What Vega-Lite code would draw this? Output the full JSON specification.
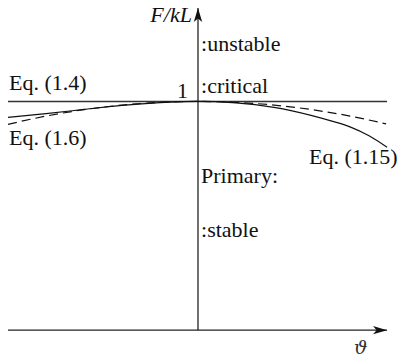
{
  "$schema": "https://vega.github.io/schema/vega-lite/v6.json",
  "width": 401,
  "height": 358,
  "autosize": {"type": "fit", "contains": "padding"},
  "padding": 0,
  "config": {"view": {"stroke": null}, "font": "Liberation Serif"},
  "datasets": {
    "curves": [
      {"curve": "Eq. (1.4)", "theta": -1.0, "F": 1.0},
      {"curve": "Eq. (1.4)", "theta": 0.995, "F": 1.0},
      {"curve": "Eq. (1.15)", "theta": -1.0, "F": 0.93},
      {"curve": "Eq. (1.15)", "theta": -0.8, "F": 0.947},
      {"curve": "Eq. (1.15)", "theta": -0.6, "F": 0.965},
      {"curve": "Eq. (1.15)", "theta": -0.4, "F": 0.983},
      {"curve": "Eq. (1.15)", "theta": -0.2, "F": 0.995},
      {"curve": "Eq. (1.15)", "theta": 0.0, "F": 1.0},
      {"curve": "Eq. (1.15)", "theta": 0.2, "F": 0.994},
      {"curve": "Eq. (1.15)", "theta": 0.4, "F": 0.974},
      {"curve": "Eq. (1.15)", "theta": 0.6, "F": 0.938},
      {"curve": "Eq. (1.15)", "theta": 0.7, "F": 0.915},
      {"curve": "Eq. (1.15)", "theta": 0.8, "F": 0.889},
      {"curve": "Eq. (1.15)", "theta": 0.9, "F": 0.85},
      {"curve": "Eq. (1.15)", "theta": 0.995, "F": 0.8},
      {"curve": "Eq. (1.6)", "theta": -1.0, "F": 0.9},
      {"curve": "Eq. (1.6)", "theta": -0.8, "F": 0.936},
      {"curve": "Eq. (1.6)", "theta": -0.6, "F": 0.964},
      {"curve": "Eq. (1.6)", "theta": -0.4, "F": 0.984},
      {"curve": "Eq. (1.6)", "theta": -0.2, "F": 0.996},
      {"curve": "Eq. (1.6)", "theta": 0.0, "F": 1.0},
      {"curve": "Eq. (1.6)", "theta": 0.2, "F": 0.996},
      {"curve": "Eq. (1.6)", "theta": 0.4, "F": 0.984},
      {"curve": "Eq. (1.6)", "theta": 0.6, "F": 0.964},
      {"curve": "Eq. (1.6)", "theta": 0.8, "F": 0.936},
      {"curve": "Eq. (1.6)", "theta": 0.99, "F": 0.902}
    ],
    "axes": [
      {"axis": "theta", "theta": -1.0, "F": 0.0},
      {"axis": "theta", "theta": 0.995, "F": 0.0},
      {"axis": "F", "theta": 0.0, "F": 0.0},
      {"axis": "F", "theta": 0.0, "F": 1.409}
    ],
    "labels": [
      {"label": "Eq. (1.4)", "kind": "left", "theta": -0.995, "F": 1.048},
      {"label": "Eq. (1.6)", "kind": "left", "theta": -0.995, "F": 0.809},
      {"label": "Eq. (1.15)", "kind": "left", "theta": 0.584, "F": 0.726},
      {"label": ":unstable", "kind": "left", "theta": 0.016, "F": 1.222},
      {"label": ":critical", "kind": "left", "theta": 0.016, "F": 1.039},
      {"label": "Primary:", "kind": "left", "theta": 0.016, "F": 0.643},
      {"label": ":stable", "kind": "left", "theta": 0.016, "F": 0.409},
      {"label": "1", "kind": "right", "theta": -0.053, "F": 1.017},
      {"label": "F/kL", "kind": "italic", "theta": -0.032, "F": 1.348},
      {"label": "ϑ", "kind": "symbol", "theta": 0.821, "F": -0.104}
    ]
  },
  "layer": [
    {
      "data": {"name": "axes"},
      "mark": {"type": "line", "stroke": "#222", "strokeWidth": 1.3},
      "encoding": {
        "x": {"field": "theta", "type": "quantitative", "scale": {"domain": [-1.0421, 1.0684], "nice": false, "zero": false}, "axis": null},
        "y": {"field": "F", "type": "quantitative", "scale": {"domain": [-0.113, 1.4435], "nice": false, "zero": false}, "axis": null},
        "detail": {"field": "axis"}
      }
    },
    {
      "data": {"name": "axes"},
      "transform": [{"filter": "datum.axis === 'theta' && datum.theta > 0"}],
      "mark": {"type": "point", "shape": "M0,0 L-2,-0.6 L-1.5,0 L-2,0.6 Z", "filled": true, "fill": "#111", "size": 196, "angle": 0, "opacity": 1, "strokeWidth": 0},
      "encoding": {
        "x": {"field": "theta", "type": "quantitative"},
        "y": {"field": "F", "type": "quantitative"}
      }
    },
    {
      "data": {"name": "axes"},
      "transform": [{"filter": "datum.axis === 'F' && datum.F > 0"}],
      "mark": {"type": "point", "shape": "M0,0 L-2,-0.6 L-1.5,0 L-2,0.6 Z", "filled": true, "fill": "#111", "size": 196, "angle": -90, "opacity": 1, "strokeWidth": 0},
      "encoding": {
        "x": {"field": "theta", "type": "quantitative"},
        "y": {"field": "F", "type": "quantitative"}
      }
    },
    {
      "data": {"name": "curves"},
      "transform": [{"filter": "datum.curve === 'Eq. (1.4)'"}],
      "mark": {"type": "line", "stroke": "#333", "strokeWidth": 1.5},
      "encoding": {
        "x": {"field": "theta", "type": "quantitative"},
        "y": {"field": "F", "type": "quantitative"}
      }
    },
    {
      "data": {"name": "curves"},
      "transform": [{"filter": "datum.curve === 'Eq. (1.6)'"}],
      "mark": {"type": "line", "stroke": "#111", "strokeWidth": 1.2, "strokeDash": [9, 5], "interpolate": "monotone"},
      "encoding": {
        "x": {"field": "theta", "type": "quantitative"},
        "y": {"field": "F", "type": "quantitative"}
      }
    },
    {
      "data": {"name": "curves"},
      "transform": [{"filter": "datum.curve === 'Eq. (1.15)'"}],
      "mark": {"type": "line", "stroke": "#111", "strokeWidth": 1.2, "interpolate": "monotone"},
      "encoding": {
        "x": {"field": "theta", "type": "quantitative"},
        "y": {"field": "F", "type": "quantitative"}
      }
    },
    {
      "data": {"name": "labels"},
      "transform": [{"filter": "datum.kind === 'left'"}],
      "mark": {"type": "text", "align": "left", "baseline": "alphabetic", "font": "Liberation Serif", "fontSize": 22, "color": "#111"},
      "encoding": {
        "x": {"field": "theta", "type": "quantitative"},
        "y": {"field": "F", "type": "quantitative"},
        "text": {"field": "label", "type": "nominal"}
      }
    },
    {
      "data": {"name": "labels"},
      "transform": [{"filter": "datum.kind === 'right'"}],
      "mark": {"type": "text", "align": "right", "baseline": "alphabetic", "font": "Liberation Serif", "fontSize": 22, "color": "#111"},
      "encoding": {
        "x": {"field": "theta", "type": "quantitative"},
        "y": {"field": "F", "type": "quantitative"},
        "text": {"field": "label", "type": "nominal"}
      }
    },
    {
      "data": {"name": "labels"},
      "transform": [{"filter": "datum.kind === 'italic'"}],
      "mark": {"type": "text", "align": "right", "baseline": "alphabetic", "font": "Liberation Serif", "fontStyle": "italic", "fontSize": 22, "color": "#111"},
      "encoding": {
        "x": {"field": "theta", "type": "quantitative"},
        "y": {"field": "F", "type": "quantitative"},
        "text": {"field": "label", "type": "nominal"}
      }
    },
    {
      "data": {"name": "labels"},
      "transform": [{"filter": "datum.kind === 'symbol'"}],
      "mark": {"type": "text", "align": "left", "baseline": "alphabetic", "font": "DejaVu Serif", "fontStyle": "italic", "fontSize": 19, "color": "#333"},
      "encoding": {
        "x": {"field": "theta", "type": "quantitative"},
        "y": {"field": "F", "type": "quantitative"},
        "text": {"field": "label", "type": "nominal"}
      }
    }
  ]
}
